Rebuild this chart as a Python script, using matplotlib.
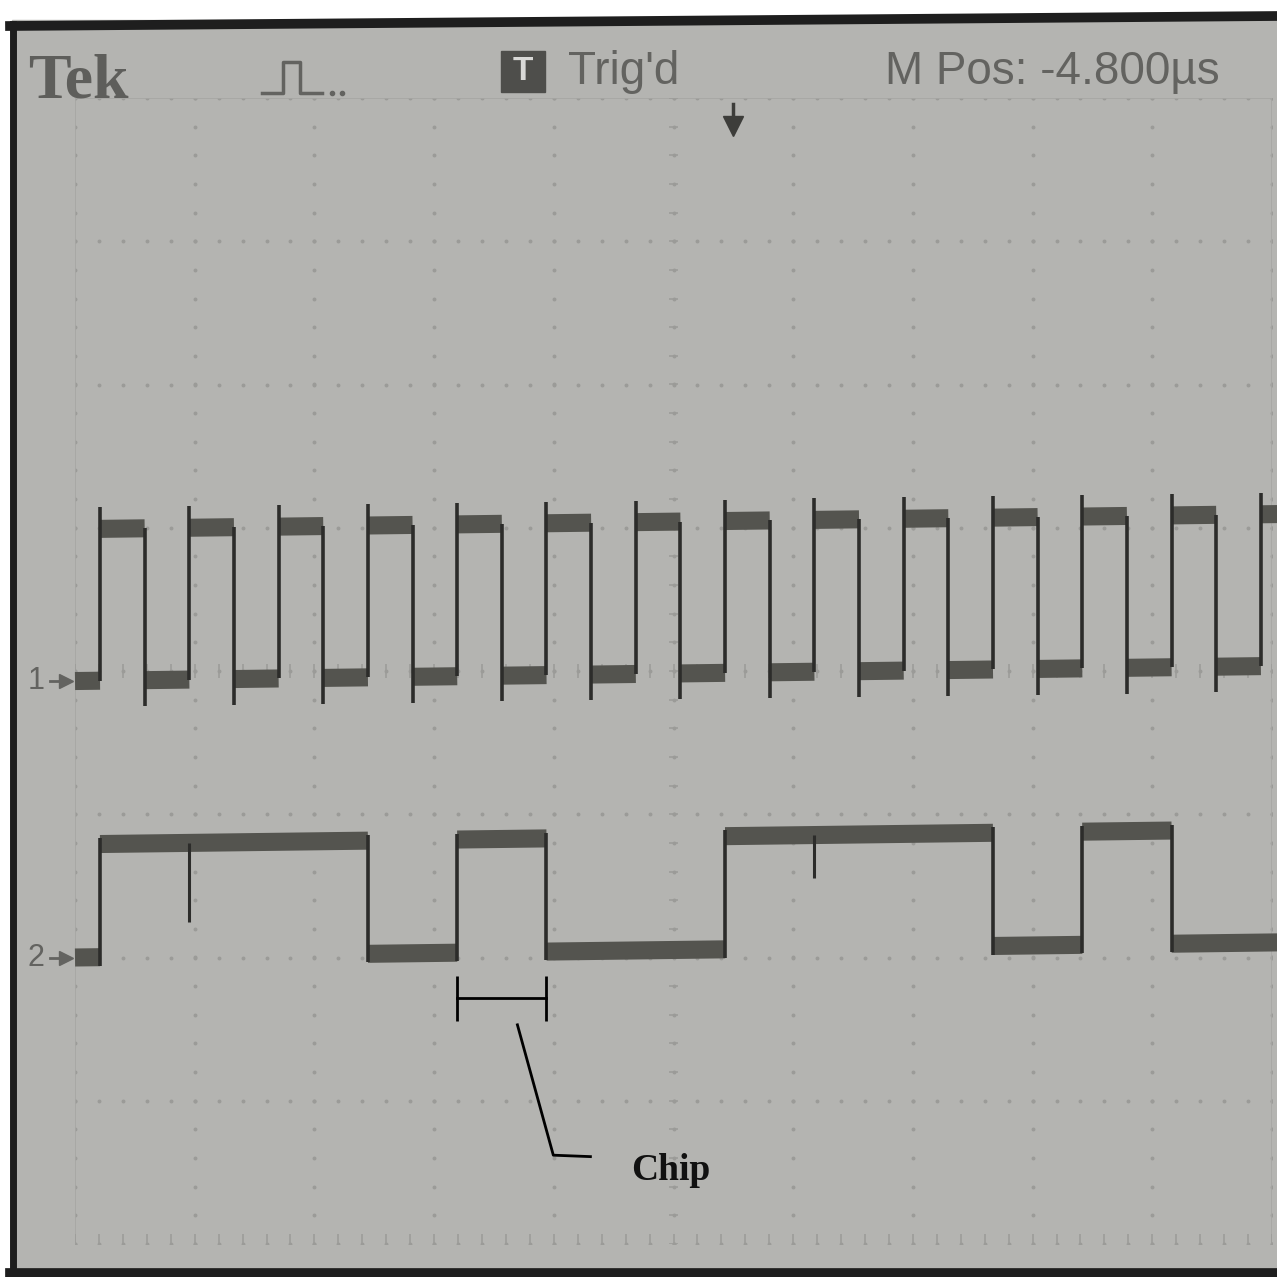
import matplotlib.pyplot as plt
import numpy as np
from matplotlib.lines import Line2D
from matplotlib.patches import Rectangle
from matplotlib.transforms import Affine2D

# chip sequence shown on channel 2 (one value per chip), clock on channel 1
chips = [1, 1, 1, 0, 1, 0, 0, 1, 1, 1, 0, 1, 0, 0]
chip_len = 0.746        # divisions per chip
first_edge = 0.209      # divisions from left graticule edge
ch1_levels = [-0.07, 0.99]    # low, high (div)
ch2_levels = [-2.0, -1.21]
# small spikes on channel 2 at chip boundaries
spike_chips = [1, 8]
spike_depth = [0.55, 0.30]
marked_chip = 4

hdr_logo = "Tek"
hdr_trig = "Trig'd"
hdr_pos = "M Pos: -4.800\u00b5s"

W = H = 1277
screen = '#b4b4b1'
trace = '#54544f'
edge_col = '#2c2c2a'
grid_col = '#9b9b98'
text_col = '#636360'
narrow = ['Liberation Sans', 'DejaVu Sans']
tilt = 0.72   # the photo is slightly skewed, traces climb to the right


def fx(x):
    return x / W


def fy(y):
    return 1 - y / H


fig = plt.figure(figsize=(W / 100, H / 100), dpi=100, facecolor='white')

# photo of the scope screen + black bezel
fig.patches.append(Rectangle((fx(12), fy(1277)), 1, fy(20) - fy(1277),
                             transform=fig.transFigure, color=screen, zorder=-5))
fig.lines.append(Line2D([fx(10), fx(1277)], [fy(26), fy(16)], lw=7, color='#1e1e1e',
                        transform=fig.transFigure))
fig.lines.append(Line2D([fx(13), fx(13)], [fy(24), fy(1277)], lw=5, color='#1e1e1e',
                        transform=fig.transFigure))
fig.lines.append(Line2D([fx(10), fx(1277)], [fy(1273), fy(1273)], lw=7, color='#1e1e1e',
                        transform=fig.transFigure))

ax = fig.add_axes([fx(75), fy(1244), fx(1272) - fx(75), fy(98) - fy(1244)])
ax.set_xlim(0, 10)
ax.set_ylim(-4, 4)
ax.set_facecolor('none')
ax.axis('off')

# graticule
for gx in range(11):
    ys = np.arange(-4, 4.01, 0.2)
    ax.plot([gx] * len(ys), ys, ls='none', marker='o', ms=1.8, color=grid_col, zorder=1)
for gy in range(-4, 5):
    xs = np.arange(0, 10.01, 0.2)
    ax.plot(xs, [gy] * len(xs), ls='none', marker='o', ms=1.8, color=grid_col, zorder=1)
ax.plot([0, 0, 10, 10], [-4, 4, 4, -4], color='#a6a6a3', lw=1.2, zorder=1)
ticks = np.arange(0, 10.01, 0.2)
ax.vlines(ticks, -4, -3.93, color=grid_col, lw=1.1)
ax.vlines(ticks, -0.05, 0.05, color=grid_col, lw=1.1)
ticks_y = np.arange(-4, 4.01, 0.2)
ax.hlines(ticks_y, 4.96, 5.04, color=grid_col, lw=1.1)
n_grid = len(ax.lines) + len(ax.collections)

# channel 1: clock, high in first half of every chip
traces = []
half = [first_edge + k * chip_len / 2 for k in range(2 * len(chips) + 1)]
xmax = 10.05
traces.append(ax.hlines(ch1_levels[0], 0, half[0], color=trace, lw=13, zorder=3))
for k in range(len(half) - 1):
    if half[k] >= xmax:
        break
    lvl = ch1_levels[1] if k % 2 == 0 else ch1_levels[0]
    traces.append(ax.hlines(lvl, half[k], min(half[k + 1], xmax), color=trace, lw=13,
                            zorder=3))
rise = [h for h in half[0::2] if h < xmax]
fall = [h for h in half[1::2] if h < xmax]
traces.append(ax.vlines(rise, ch1_levels[0], ch1_levels[1] + 0.15, color=edge_col,
                        lw=2.6, zorder=4))
traces.append(ax.vlines(fall, ch1_levels[0] - 0.18, ch1_levels[1], color=edge_col,
                        lw=2.6, zorder=4))

# channel 2: chip data
bounds = [first_edge + k * chip_len for k in range(len(chips) + 1)]
prev, start = 0, 0.0
for k, b in enumerate(chips):
    if b != prev:
        traces.append(ax.hlines(ch2_levels[prev], start, bounds[k], color=trace, lw=13,
                                zorder=3))
        traces.append(ax.vlines(bounds[k], ch2_levels[0] - 0.06, ch2_levels[1] + 0.04,
                                color=edge_col, lw=2.6, zorder=4))
        start, prev = bounds[k], b
traces.append(ax.hlines(ch2_levels[prev], start, xmax, color=trace, lw=13, zorder=3))
for c, d in zip(spike_chips, spike_depth):
    lvl = ch2_levels[chips[c]]
    traces.append(ax.vlines(bounds[c], lvl - d, lvl, color=edge_col, lw=2.2, zorder=4))

# vertical shear so the traces climb slightly to the right, like the photo
px0, py0 = ax.transData.transform((0, ch1_levels[0]))
shear = Affine2D().translate(-px0, -py0).skew_deg(0, tilt).translate(px0, py0)
for art in traces:
    art.set_transform(ax.transData + shear)
    art.set_clip_on(False)

# chip annotation (drawn on paper)
bx0, bx1 = bounds[marked_chip], bounds[marked_chip + 1]
by = -2.28
ax.plot([bx0, bx1], [by, by], color='black', lw=2)
ax.vlines([bx0, bx1], by - 0.16, by + 0.15, color='black', lw=2)
mid = (bx0 + bx1) / 2
ax.plot([mid + 0.13, mid + 0.43, mid + 0.74], [by - 0.19, by - 1.10, by - 1.11],
        color='black', lw=2)
ax.text(mid + 1.08, by - 1.27, 'Chip', fontsize=27, fontweight='bold',
        family=['Liberation Serif', 'DejaVu Serif'], color='#111111', va='baseline')

# channel reference markers
for lbl, lvl, lx in (('1', ch1_levels[0], 36), ('2', ch2_levels[0], 36)):
    yy = ax.transData.transform((0, lvl))[1] / H
    fig.text(fx(lx), yy, lbl, fontsize=22, color=text_col, ha='center', va='center',
             family=narrow)
    fig.lines.append(Line2D([fx(50), fx(66)], [yy, yy], lw=2, color=text_col,
                            transform=fig.transFigure))
    fig.lines.append(Line2D([fx(66)], [yy], marker='>', ms=10, color=text_col,
                            transform=fig.transFigure))

# header readout
fig.text(fx(28), fy(98), hdr_logo, fontsize=46, fontweight='bold', color='#5e5e5b',
         family=['Liberation Serif', 'DejaVu Serif'], va='baseline')
fig.lines.append(Line2D([fx(262), fx(283), fx(283), fx(300), fx(300), fx(322)],
                        [fy(93), fy(93), fy(62), fy(62), fy(93), fy(93)],
                        lw=2.5, color=text_col, transform=fig.transFigure))
fig.lines.append(Line2D([fx(332), fx(342)], [fy(93), fy(93)], ls='none', marker='o',
                        ms=3, color=text_col, transform=fig.transFigure))
fig.patches.append(Rectangle((fx(501), fy(92)), fx(44), fx(41), transform=fig.transFigure,
                             color='#4e4e4b'))
fig.text(fx(523), fy(72), 'T', fontsize=24, fontweight='bold', color='#d8d8d6',
         ha='center', va='center', family=narrow)
fig.text(fx(568), fy(84), hdr_trig, fontsize=33, color=text_col, va='baseline',
         family=narrow)
fig.text(fx(885), fy(84), hdr_pos, fontsize=33, color=text_col, va='baseline',
         family=narrow)

# trigger position arrow
fig.lines.append(Line2D([fx(733), fx(733)], [fy(104), fy(124)], lw=2.5, color='#3d3d3a',
                        transform=fig.transFigure))
fig.lines.append(Line2D([fx(733)], [fy(126)], marker='v', ms=14, color='#3d3d3a',
                        transform=fig.transFigure))

fig.savefig('out.png', dpi=100, facecolor='white')
